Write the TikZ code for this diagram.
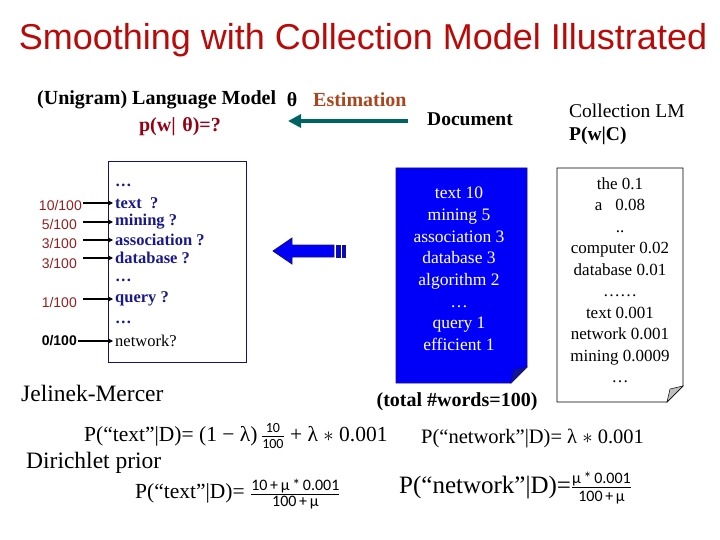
\documentclass[tikz,border=0pt]{standalone}
\usepackage{fontspec}
\setmainfont{Liberation Serif}
\newfontfamily\arialf{Liberation Sans}
\newfontfamily\calif{Carlito}
\usetikzlibrary{arrows.meta}
\definecolor{titlered}{RGB}{185,10,10}
\definecolor{estbrown}{RGB}{170,70,30}
\definecolor{pred}{RGB}{150,0,20}
\definecolor{teal}{RGB}{0,100,100}
\definecolor{navy}{RGB}{20,20,110}
\definecolor{wordblue}{RGB}{25,25,140}
\definecolor{fracred}{RGB}{150,30,30}
\definecolor{docblue}{RGB}{0,0,250}
\definecolor{folddark}{RGB}{20,20,150}
\newcommand\fs[1]{\fontsize{#1}{#1}\selectfont}
\newcommand\myfr[3]{$\frac{\hbox{\calif\fs{#3}#1}}{\hbox{\calif\fs{#3}#2}}$}
\begin{document}
\begin{tikzpicture}[x=1pt,y=-1pt,
  every node/.style={inner sep=1pt},
  word/.style={anchor=west,font=\fs{16.5}\bfseries,text=wordblue,inner sep=2pt},
  frac/.style={anchor=east,font=\arialf\fs{14},text=fracred},
  ptr/.style={-{Stealth[length=5pt,width=5pt]},line width=1.4pt}]
\useasboundingbox (0,0) rectangle (720,540);
% title
\node (title) at (363,40) {\arialf\fs{36}\color{titlered}Smoothing with Collection Model Illustrated};
% top line
\node[anchor=west] (lm) at (36,100) {\fs{20}\bfseries (Unigram) Language Model};
\node (theta) at (292,100) {\fs{20}\bfseries θ};
\node[anchor=west] (est) at (312,100) {\fs{20}\bfseries\color{estbrown}Estimation};
\node (pw) at (180,127) {\fs{20}\bfseries\color{pred}p(w|\,\,θ)=?};
\node (docl) at (470,119) {\fs{19.5}\bfseries Document};
\coordinate (tealstart) at (408,121);
\coordinate (tealend) at (288,121);
\draw[teal,line width=4pt,-{Triangle[length=13pt,width=13pt]}] (tealstart) -- (tealend);
\node[anchor=west] (clm) at (568,111) {\fs{19.5}Collection LM};
\node[anchor=west] (pwc) at (568,136) {\fs{19.5}\bfseries P(w|C)};
% left box
\draw[navy,line width=1pt] (108,162) rectangle (246,362);
\node[word] at (113,185) {\dots};
\node[word] (w1) at (113,203) {text\ \ ?};
\node[word] (w2) at (113,222) {mining ?};
\node[word] (w3) at (113,240) {association ?};
\node[word] (w4) at (113,258) {database ?};
\node[word] at (113,280) {\dots};
\node[word] (w5) at (113,299) {query ?};
\node[word] at (113,322) {\dots};
\node[word,font=\fs{16.5},text=black] (w6) at (113,341) {network?};
\node[frac] (f1) at (83,205) {10/100};
\node[frac] (f2) at (78,224) {5/100};
\node[frac] (f3) at (78,243) {3/100};
\node[frac] (f4) at (78,263) {3/100};
\node[frac] (f5) at (78,302) {1/100};
\node[frac,text=black,font=\arialf\fs{14}\bfseries] (f6) at (78,341) {0/100};
\draw[ptr] (83,203) -- (w1.west);
\draw[ptr] (83,222) -- (w2.west);
\draw[ptr] (83,240) -- (w3.west);
\draw[ptr] (83,258) -- (w4.west);
\draw[ptr] (83,299) -- (w5.west);
\draw[ptr] (f6.east) -- (w6.west);
% big blue arrow
\filldraw[draw=navy,fill=docblue,line width=0.8pt] (273,251) -- (292,238) -- (292,245) -- (334,245) -- (334,257) -- (292,257) -- (292,264) -- cycle;
\filldraw[draw=navy,fill=docblue,line width=0.6pt] (336,245) rectangle (340,257);
\filldraw[draw=navy,fill=docblue,line width=0.6pt] (342,245) rectangle (345,257);
% blue document
\filldraw[draw=navy,fill=docblue,line width=0.8pt] (396,168) -- (527,168) -- (527,367) -- (511,383) -- (396,383) -- cycle;
\filldraw[draw=navy,fill=folddark,line width=0.5pt] (511,383) -- (527,367) -- (514,370) -- cycle;
\node[align=center,text=white,font=\fontsize{17.5}{21.7}\selectfont] (doc) at (459,269)
  {text 10\\mining 5\\association 3\\database 3\\algorithm 2\\\dots\\query 1\\efficient 1};
\node (total) at (457,402) {\fs{20}\bfseries (total \#words=100)};
% collection document
\filldraw[draw=black,fill=white,line width=0.8pt] (557,168) -- (683,168) -- (683,386) -- (667,402) -- (557,402) -- cycle;
\filldraw[draw=black,fill=gray!50,line width=0.5pt] (667,402) -- (683,386) -- (670,389) -- cycle;
\node[align=center,font=\fontsize{17}{21.5}\selectfont] (coll) at (620,280)
  {the 0.1\\a\ \ \ 0.08\\..\\computer 0.02\\database 0.01\\\dots\dots\\text 0.001\\network 0.001\\mining 0.0009\\\dots};
% bottom
\node[anchor=west] (jm) at (20,393) {\fs{23.5}Jelinek-Mercer};
\node[anchor=west] (dp) at (25,463) {\fs{23.5}Dirichlet prior};
\node[anchor=west] (e1) at (83,436) {\fs{21.5}P(“text”|D)= (1 − λ)\,\myfr{10}{100}{14} + λ $\ast$ 0.001};
\node[anchor=west] (e2) at (420,438) {\fs{20.5}P(“network”|D)= λ $\ast$ 0.001};
\node[anchor=west] (e3) at (134,494) {\fs{21.5}P(“text”|D)= \myfr{10\,+\,μ\,*\,0.001}{100\,+\,μ}{16}};
\node[anchor=west] (e4) at (398,488) {\fs{25}P(“network”|D)=\myfr{μ\,*\,0.001}{100\,+\,μ}{16}};
\end{tikzpicture}
\end{document}
